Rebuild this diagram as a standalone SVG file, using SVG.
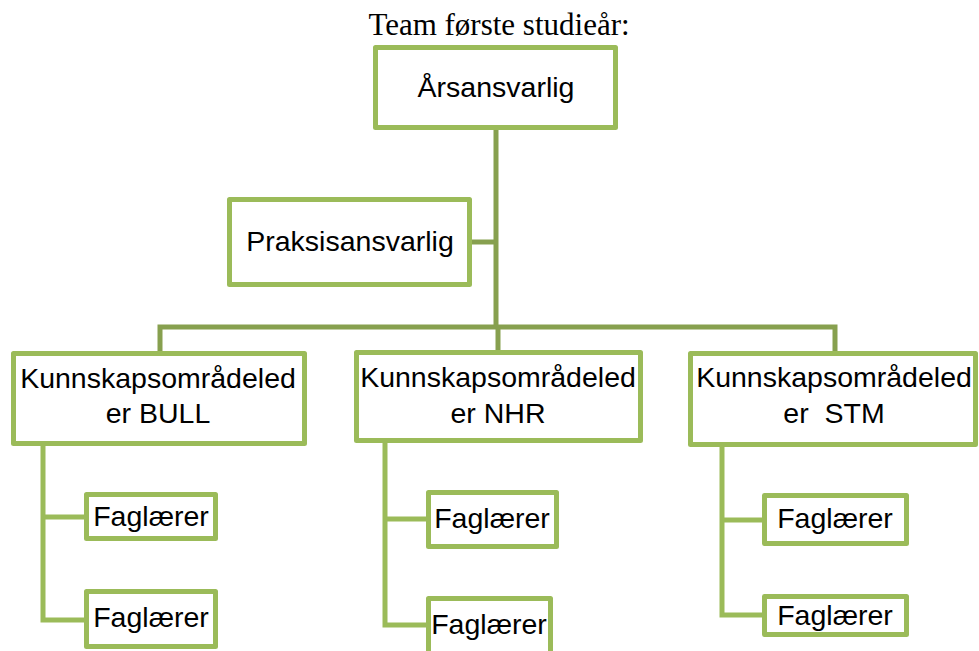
<svg xmlns="http://www.w3.org/2000/svg" width="979" height="651" viewBox="0 0 979 651">
<style>
.box{fill:#ffffff;stroke:#9bbb59;stroke-width:5;stroke-linejoin:round}
.t{font-family:"Liberation Sans",Arial,sans-serif;font-size:28.5px;fill:#000;text-anchor:middle}
.title{font-family:"Liberation Serif","Times New Roman",serif;font-size:31px;fill:#000;text-anchor:middle}
.bus{fill:none;stroke:#87a04f;stroke-width:5}
.br{fill:none;stroke:#9bbb59;stroke-width:5}
</style>
<rect width="979" height="651" fill="#ffffff"/>
<text class="title" x="499" y="35">Team første studieår:</text>
<g id="connectors">
<path class="bus" d="M496,130 V327"/>
<path class="bus" d="M472,242 H496"/>
<path class="bus" d="M160,351 V327 H835 V351"/>
<path class="bus" d="M498,327 V350"/>
<path class="br" d="M43,446 V620 H84 M43,517 H84"/>
<path class="br" d="M385,443 V625 H426 M385,519 H426"/>
<path class="br" d="M722,447 V615 H762 M722,520 H762"/>
</g>
<g id="n-arsansvarlig"><rect class="box" x="375.5" y="47.5" width="240" height="80"/><text class="t" x="496" y="97">Årsansvarlig</text></g>
<g id="n-praksis"><rect class="box" x="229.5" y="199.5" width="240" height="85"/><text class="t" x="350" y="251">Praksisansvarlig</text></g>
<g id="n-bull"><rect class="box" x="13.5" y="353.5" width="291" height="90"/><text class="t" x="158" y="388">Kunnskapsområdeled</text><text class="t" x="158" y="423">er BULL</text></g>
<g id="n-nhr"><rect class="box" x="356.5" y="352.5" width="284" height="88"/><text class="t" x="498" y="387">Kunnskapsområdeled</text><text class="t" x="498" y="423">er NHR</text></g>
<g id="n-stm"><rect class="box" x="690.5" y="353.5" width="285" height="91"/><text class="t" x="834" y="387">Kunnskapsområdeled</text><text class="t" x="834" y="423" xml:space="preserve">er  STM</text></g>
<g id="n-bull-f1"><rect class="box" x="86.5" y="494.5" width="129" height="44"/><text class="t" x="151" y="526">Faglærer</text></g>
<g id="n-bull-f2"><rect class="box" x="86.5" y="591.5" width="129" height="55"/><text class="t" x="151" y="627">Faglærer</text></g>
<g id="n-nhr-f1"><rect class="box" x="428.5" y="492.5" width="128" height="54"/><text class="t" x="492" y="528">Faglærer</text></g>
<g id="n-nhr-f2"><rect class="box" x="428.5" y="598.5" width="122" height="70"/><text class="t" x="489" y="634">Faglærer</text></g>
<g id="n-stm-f1"><rect class="box" x="764.5" y="495.5" width="142" height="48"/><text class="t" x="835" y="528">Faglærer</text></g>
<g id="n-stm-f2"><rect class="box" x="764.5" y="596.5" width="142" height="38"/><text class="t" x="835" y="625">Faglærer</text></g>
</svg>
